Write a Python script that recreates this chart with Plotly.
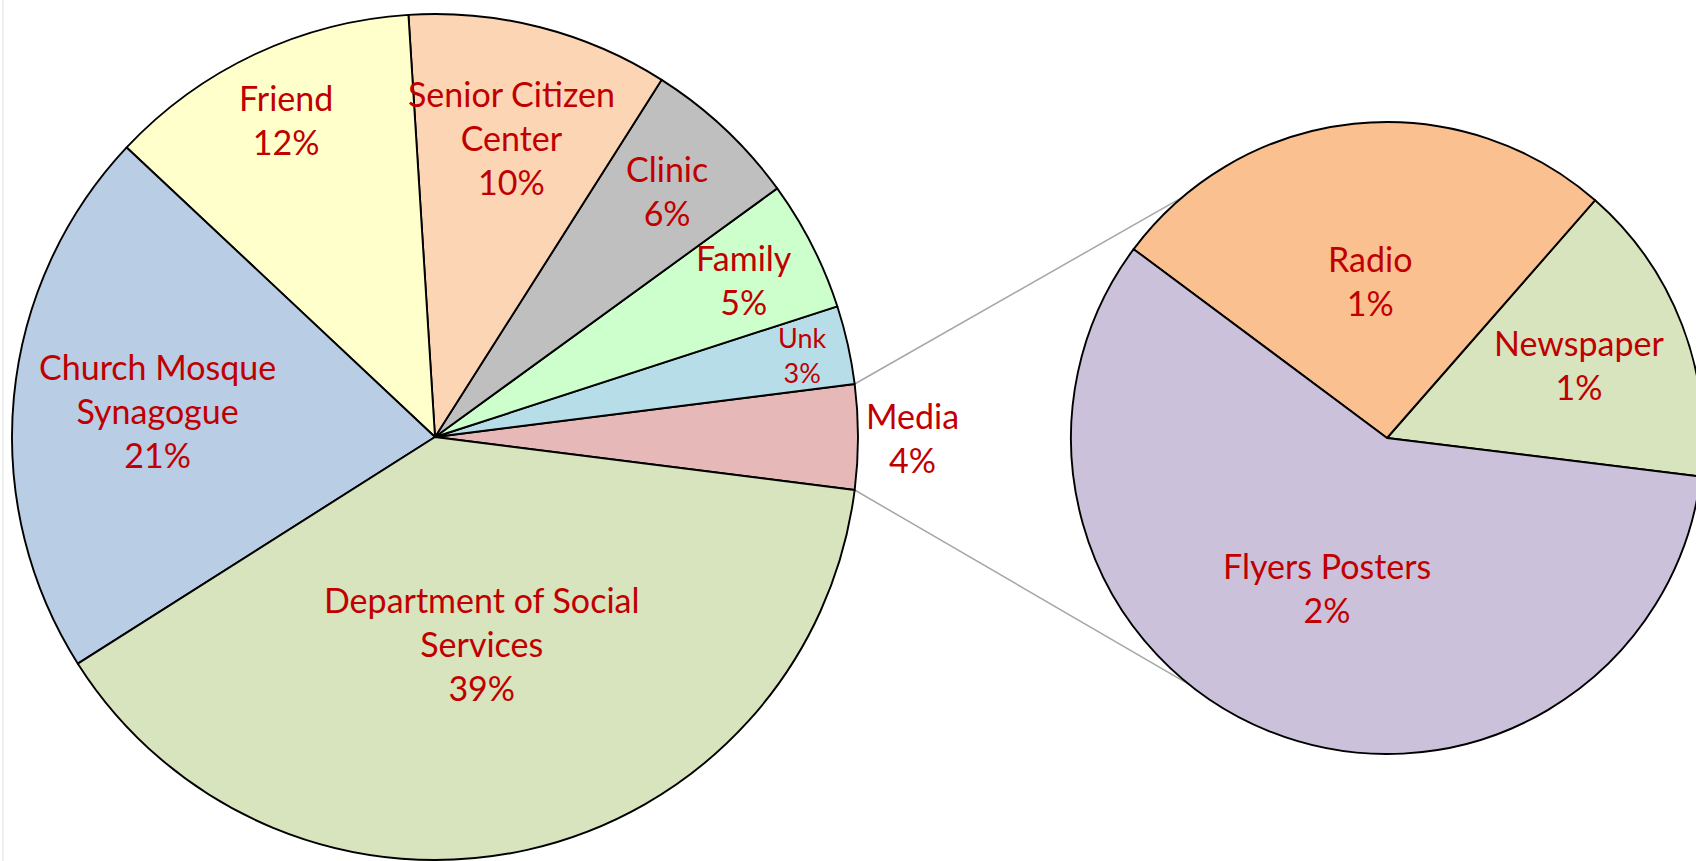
import math
import plotly.graph_objects as go

# ---------------- data ----------------
main_labels = ["Media", "Unk", "Family", "Clinic", "Senior Citizen Center",
               "Friend", "Church Mosque Synagogue", "Department of Social Services"]
main_text = ["Media", "Unk", "Family", "Clinic", "Senior Citizen<br>Center",
             "Friend", "Church Mosque<br>Synagogue", "Department of Social<br>Services"]
main_values = [4, 3, 5, 6, 10, 12, 21, 39]

sub_labels = ["Newspaper", "Radio", "Flyers Posters"]
sub_values = [0.62, 1.05, 2.33]   # share of all responses (%), together = Media

# ---------------- styles ----------------
main_colors = ["#E6B9B8", "#B7DEE8", "#CCFFCC", "#BFBFBF", "#FCD5B5",
               "#FFFFCC", "#B9CDE5", "#D7E4BD"]
sub_colors = ["#D7E4BD", "#FAC090", "#CCC1DA"]
TXT = "#C00000"
FONT = "Lato"
FS = 34

W, H = 1704, 861
MC = (435, 437); MR = 423
SC = (1387, 438); SR = 316

main_frac = [1.13, 0.89, 0.82, 0.80, 0.73, 0.83, 0.66, 0.50]
main_size = [FS, 27, FS, FS, FS, FS, FS, FS]
sub_frac = [0.65, 0.50, 0.51]


def px2paper(x, y):
    return x / W, 1 - y / H


def dom(c, r):
    return dict(x=[(c[0] - r) / W, (c[0] + r) / W],
                y=[1 - (c[1] + r) / H, 1 - (c[1] - r) / H])


main_total = sum(main_values)
main_start = -0.5 * main_values[0] / main_total * 360   # Media centred at 3 o'clock
sub_total = sum(sub_values)
sub_start = -7.0

# plotly (counterclockwise): rotation = clockwise-from-top angle of the first slice's
# counterclockwise edge
main_rot = 90 - (main_start + main_values[0] / main_total * 360)
sub_rot = 90 - (sub_start + sub_values[0] / sub_total * 360)

fig = go.Figure()
fig.add_trace(go.Pie(labels=main_labels, values=main_values, sort=False,
                     direction="counterclockwise", rotation=main_rot,
                     marker=dict(colors=main_colors, line=dict(color="#000000", width=1.9)),
                     textinfo="none", showlegend=False, domain=dom(MC, MR)))
fig.add_trace(go.Pie(labels=sub_labels, values=sub_values, sort=False,
                     direction="counterclockwise", rotation=sub_rot,
                     marker=dict(colors=sub_colors, line=dict(color="#000000", width=1.9)),
                     textinfo="none", showlegend=False, domain=dom(SC, SR)))

annotations = []
cum = 0
for lab, v, fr, fs in zip(main_text, main_values, main_frac, main_size):
    a = math.radians(main_start + 360 * (cum + v / 2) / main_total)
    cum += v
    x, y = px2paper(MC[0] + fr * MR * math.cos(a), MC[1] - fr * MR * math.sin(a))
    annotations.append(dict(x=x, y=y, xref="paper", yref="paper", showarrow=False,
                            xanchor="center", yanchor="middle",
                            text=f"{lab}<br>{v}%", align="center",
                            font=dict(family=FONT, size=fs, color=TXT)))
cum = 0
for lab, v, fr in zip(sub_labels, sub_values, sub_frac):
    a = math.radians(sub_start + 360 * (cum + v / 2) / sub_total)
    cum += v
    x, y = px2paper(SC[0] + fr * SR * math.cos(a), SC[1] - fr * SR * math.sin(a))
    annotations.append(dict(x=x, y=y, xref="paper", yref="paper", showarrow=False,
                            xanchor="center", yanchor="middle",
                            text=f"{lab}<br>{round(v):d}%", align="center",
                            font=dict(family=FONT, size=FS, color=TXT)))

# connector lines from the Media slice edges to the secondary pie
half = math.radians(0.5 * main_values[0] / main_total * 360)
shapes = []
for sgn, end_ang in ((1, 130.4), (-1, -128.7)):
    x0, y0 = px2paper(MC[0] + MR * math.cos(half), MC[1] - sgn * MR * math.sin(half))
    e = math.radians(end_ang)
    x1, y1 = px2paper(SC[0] + SR * math.cos(e), SC[1] - SR * math.sin(e))
    shapes.append(dict(type="line", xref="paper", yref="paper", x0=x0, y0=y0, x1=x1, y1=y1,
                       line=dict(color="#A6A6A6", width=1.5), layer="below"))
# faint frame line at the left edge
shapes.append(dict(type="line", xref="paper", yref="paper", x0=3 / W, x1=3 / W, y0=0, y1=1,
                   line=dict(color="#EBEBEB", width=1.5), layer="below"))

fig.update_layout(width=W, height=H, margin=dict(l=0, r=0, t=0, b=0, pad=0),
                  paper_bgcolor="white", plot_bgcolor="white",
                  annotations=annotations, shapes=shapes)

fig.write_html("out.html", config={"displayModeBar": False},
               post_script="document.body.style.margin='0';document.body.style.overflow='hidden';")
